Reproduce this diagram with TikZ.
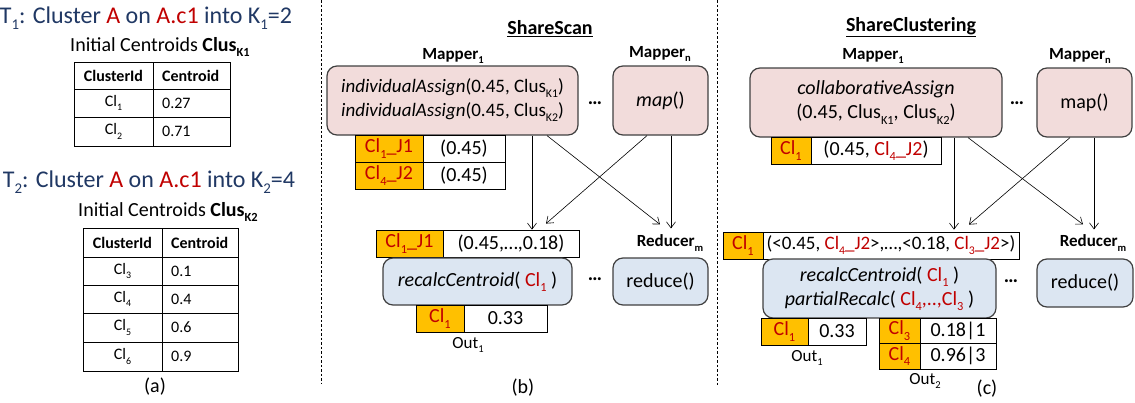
\documentclass[tikz,border=0pt]{standalone}
\usepackage{fontspec}
\setmainfont{Carlito}
\usetikzlibrary{arrows.meta}
\definecolor{navy}{HTML}{203864}
\definecolor{cred}{HTML}{C00000}
\definecolor{pinkf}{HTML}{F2DCDB}
\definecolor{bluef}{HTML}{DCE6F2}
\definecolor{orng}{HTML}{FFC000}
\definecolor{bgray}{HTML}{404040}
\newcommand\rd[1]{\textcolor{cred}{#1}}
\makeatletter
\newcommand\sub[1]{\raisebox{-0.26em}{\fontsize{\the\dimexpr 0.62\dimexpr\f@size pt\relax\relax}{0pt}\selectfont #1}}
\makeatother
\newcommand\tcell[7]{\node[#6,minimum width={((#4)-(#2))*1pt},minimum height={((#5)-(#3))*1pt}] (#1) at ({((#2)+(#4))/2},{((#3)+(#5))/2}) {#7};}
\tikzset{
  lbl/.style={inner sep=0pt},
  cell/.style={draw=black,line width=0.8pt,inner sep=0pt},
  ocell/.style={cell,fill=orng,text=cred},
  wcell/.style={cell,fill=white},
  mbox/.style={draw=bgray,line width=1.2pt,rounded corners=10pt,fill=pinkf,inner sep=0pt,align=center},
  rbox/.style={mbox,fill=bluef},
  arr/.style={-{Straight Barb[length=6pt,width=9pt]},line width=0.6pt},
  sepline/.style={line width=0.7pt,dash pattern=on 2.5pt off 2pt},
  f24/.style={font=\fontsize{24}{28}\selectfont},
  f20/.style={font=\fontsize{20}{24}\selectfont},
  f20b/.style={font=\fontsize{20}{24}\selectfont\bfseries},
  f19/.style={font=\fontsize{19}{24}\selectfont},
  f17/.style={font=\fontsize{17}{20}\selectfont},
  f17b/.style={font=\fontsize{17}{20}\selectfont\bfseries},
  ft/.style={font=\fontsize{16}{18}\selectfont},
  ftb/.style={font=\fontsize{16}{18}\selectfont\bfseries},
}
\begin{document}
\begin{tikzpicture}[x=1pt,y=-1pt]
\useasboundingbox (0,0) rectangle (1135,402);
% separators
\draw[sepline] (321,0) -- (321,383);
\draw[sepline] (717,0) -- (717,386);

% ---------- panel (a)
\node[lbl,f24,text=navy] (t1) at (146,18) {T\sub{1}: Cluster \rd{A} on \rd{A.c1} into K\sub{1}=2};
\node[lbl,f20] (ic1) at (160,47) {Initial Centroids \textbf{Clus\sub{K1}}};
\tcell{a1h1}{74}{62}{153}{89}{cell,ftb}{ClusterId}
\tcell{a1h2}{153}{62}{230}{89}{cell}{}
\node[lbl,ftb,anchor=west] (a1h2t) at (162,75.5) {Centroid};
\tcell{a1r1a}{74}{89}{153}{117}{cell,ft}{Cl\sub{1}}
\tcell{a1r1b}{153}{89}{230}{117}{cell}{}
\node[lbl,ft,anchor=west] (a1r1t) at (162,103) {0.27};
\tcell{a1r2a}{74}{117}{153}{146}{cell,ft}{Cl\sub{2}}
\tcell{a1r2b}{153}{117}{230}{146}{cell}{}
\node[lbl,ft,anchor=west] (a1r2t) at (162,131.5) {0.71};

\node[lbl,f24,text=navy] (t2) at (149,182) {T\sub{2}: Cluster \rd{A} on \rd{A.c1} into K\sub{2}=4};
\node[lbl,f20] (ic2) at (168,212) {Initial Centroids \textbf{Clus\sub{K2}}};
\tcell{a2h1}{83}{228}{162}{257}{cell,ftb}{ClusterId}
\tcell{a2h2}{162}{228}{238}{257}{cell}{}
\node[lbl,ftb,anchor=west] (a2h2t) at (171,242.5) {Centroid};
\tcell{a2r1a}{83}{257}{162}{285}{cell,ft}{Cl\sub{3}}
\tcell{a2r1b}{162}{257}{238}{285}{cell}{}
\node[lbl,ft,anchor=west] (a2r1t) at (171,271) {0.1};
\tcell{a2r2a}{83}{285}{162}{313}{cell,ft}{Cl\sub{4}}
\tcell{a2r2b}{162}{285}{238}{313}{cell}{}
\node[lbl,ft,anchor=west] (a2r2t) at (171,299) {0.4};
\tcell{a2r3a}{83}{313}{162}{342}{cell,ft}{Cl\sub{5}}
\tcell{a2r3b}{162}{313}{238}{342}{cell}{}
\node[lbl,ft,anchor=west] (a2r3t) at (171,327.5) {0.6};
\tcell{a2r4a}{83}{342}{162}{371}{cell,ft}{Cl\sub{6}}
\tcell{a2r4b}{162}{342}{238}{371}{cell}{}
\node[lbl,ft,anchor=west] (a2r4t) at (171,356.5) {0.9};
\node[lbl,f20] (la) at (155,387) {(a)};

% ---------- panel (b)
\node[lbl,f20b] (tb) at (550,29) {\underline{ShareScan}};
\node[lbl,f17b] (m1l) at (453,56) {Mapper\sub{1}};
\node[lbl,f17b] (mnl) at (660,54) {Mapper\sub{n}};
\tcell{m1}{327}{66}{578}{135}{mbox,f19}{\textit{individualAssign}(0.45, Clus\sub{K1})\\\textit{individualAssign}(0.45, Clus\sub{K2})}
\tcell{mn}{613}{66}{708}{135}{mbox,f20}{\textit{map}()}
\node[lbl,f20b] (d1) at (595,103) {…};
\tcell{o1}{355}{135}{423}{162}{ocell,f20}{Cl\sub{1}\_J1}
\tcell{w1}{423}{135}{505}{162}{wcell,f20}{(0.45)}
\tcell{o2}{355}{162}{423}{189}{ocell,f20}{Cl\sub{4}\_J2}
\tcell{w2}{423}{162}{505}{189}{wcell,f20}{(0.45)}
\tcell{ro}{376}{230}{443}{257}{ocell,f20}{Cl\sub{1}\_J1}
\tcell{rw}{443}{230}{579}{257}{wcell,f20}{(0.45,…,0.18)}
\tcell{rc}{383}{258}{572}{305}{rbox,f20}{\textit{recalcCentroid}( \rd{Cl\sub{1}} )}
\node[lbl,f20b] (d2) at (595,279) {…};
\node[lbl,f17b] (rml) at (670,243) {Reducer\sub{m}};
\tcell{rb}{613}{258}{708}{305}{rbox,f20}{reduce()}
\tcell{oo}{416}{305}{464}{332}{ocell,f20}{Cl\sub{1}}
\tcell{ow}{464}{305}{547}{332}{wcell,f20}{0.33}
\node[lbl,f17] (out1b) at (468,345) {Out\sub{1}};
\node[lbl,f20] (lb) at (523,388) {(b)};

\draw[arr] ([xshift=79.5pt]m1.south) -- ([xshift=21pt]rw.north);
\draw[arr] ([xshift=94.5pt]m1.south) -- ([xshift=-0.5pt,yshift=33pt]rb.north);
\draw[arr] ([xshift=-13.5pt]mn.south) -- ([xshift=35pt,yshift=6pt]rw.north);
\draw[arr] ([xshift=10.5pt]mn.south) -- ([xshift=10.5pt,yshift=29pt]rb.north);

% ---------- panel (c)
\node[lbl,f20b] (tc) at (911,27) {\underline{ShareClustering}};
\node[lbl,f17b] (m1cl) at (873,56) {Mapper\sub{1}};
\node[lbl,f17b] (mncl) at (1080,56) {Mapper\sub{n}};
\tcell{m1c}{750}{68}{1002}{137}{mbox,f20}{\textit{collaborativeAssign}\\(0.45, Clus\sub{K1}, Clus\sub{K2})}
\tcell{mnc}{1037}{68}{1132}{137}{mbox,f20}{map()}
\node[lbl,f20b] (d3) at (1017,103) {…};
\tcell{oc1}{771}{137}{811}{164}{ocell,f20}{Cl\sub{1}}
\tcell{wc1}{811}{137}{941}{164}{wcell,f20}{(0.45, \rd{Cl\sub{4}\_J2})}
\tcell{roc}{723}{232}{763}{259}{ocell,f20}{Cl\sub{1}}
\tcell{rwc}{763}{232}{1019}{259}{wcell,f19}{(<0.45, \rd{Cl\sub{4}\_J2}>,…,<0.18, \rd{Cl\sub{3}\_J2}>)}
\tcell{rcc}{763}{259}{996}{318}{rbox,f20}{\textit{recalcCentroid}( \rd{Cl\sub{1}} )\\\textit{partialRecalc}( \rd{Cl\sub{4},..,Cl\sub{3}} )}
\node[lbl,f20b] (d4) at (1011,281) {…};
\node[lbl,f17b] (rmcl) at (1093,243) {Reducer\sub{m}};
\tcell{rbc}{1037}{259}{1133}{307}{rbox,f20}{reduce()}
\tcell{ooc}{761}{318}{808}{345}{ocell,f20}{Cl\sub{1}}
\tcell{owc}{808}{318}{866}{345}{wcell,f20}{0.33}
\node[lbl,f17] (out1c) at (807,358) {Out\sub{1}};
\tcell{p1o}{879}{318}{920}{343}{ocell,f20}{Cl\sub{3}}
\tcell{p1w}{920}{318}{996}{343}{wcell,f20}{0.18|1}
\tcell{p2o}{879}{343}{920}{369}{ocell,f20}{Cl\sub{4}}
\tcell{p2w}{920}{343}{996}{369}{wcell,f20}{0.96|3}
\node[lbl,f17] (out2c) at (925,381) {Out\sub{2}};
\node[lbl,f20] (lc) at (987,389) {(c)};

\draw[arr] ([xshift=78pt]m1c.south) -- ([xshift=63pt,yshift=2pt]rwc.north);
\draw[arr] ([xshift=92pt]m1c.south) -- ([xshift=-2pt,yshift=34pt]rbc.north);
\draw[arr] ([xshift=-14.5pt]mnc.south) -- ([xshift=78pt,yshift=7pt]rwc.north);
\draw[arr] ([xshift=9.5pt]mnc.south) -- ([xshift=9pt,yshift=29pt]rbc.north);
\end{tikzpicture}
\end{document}
